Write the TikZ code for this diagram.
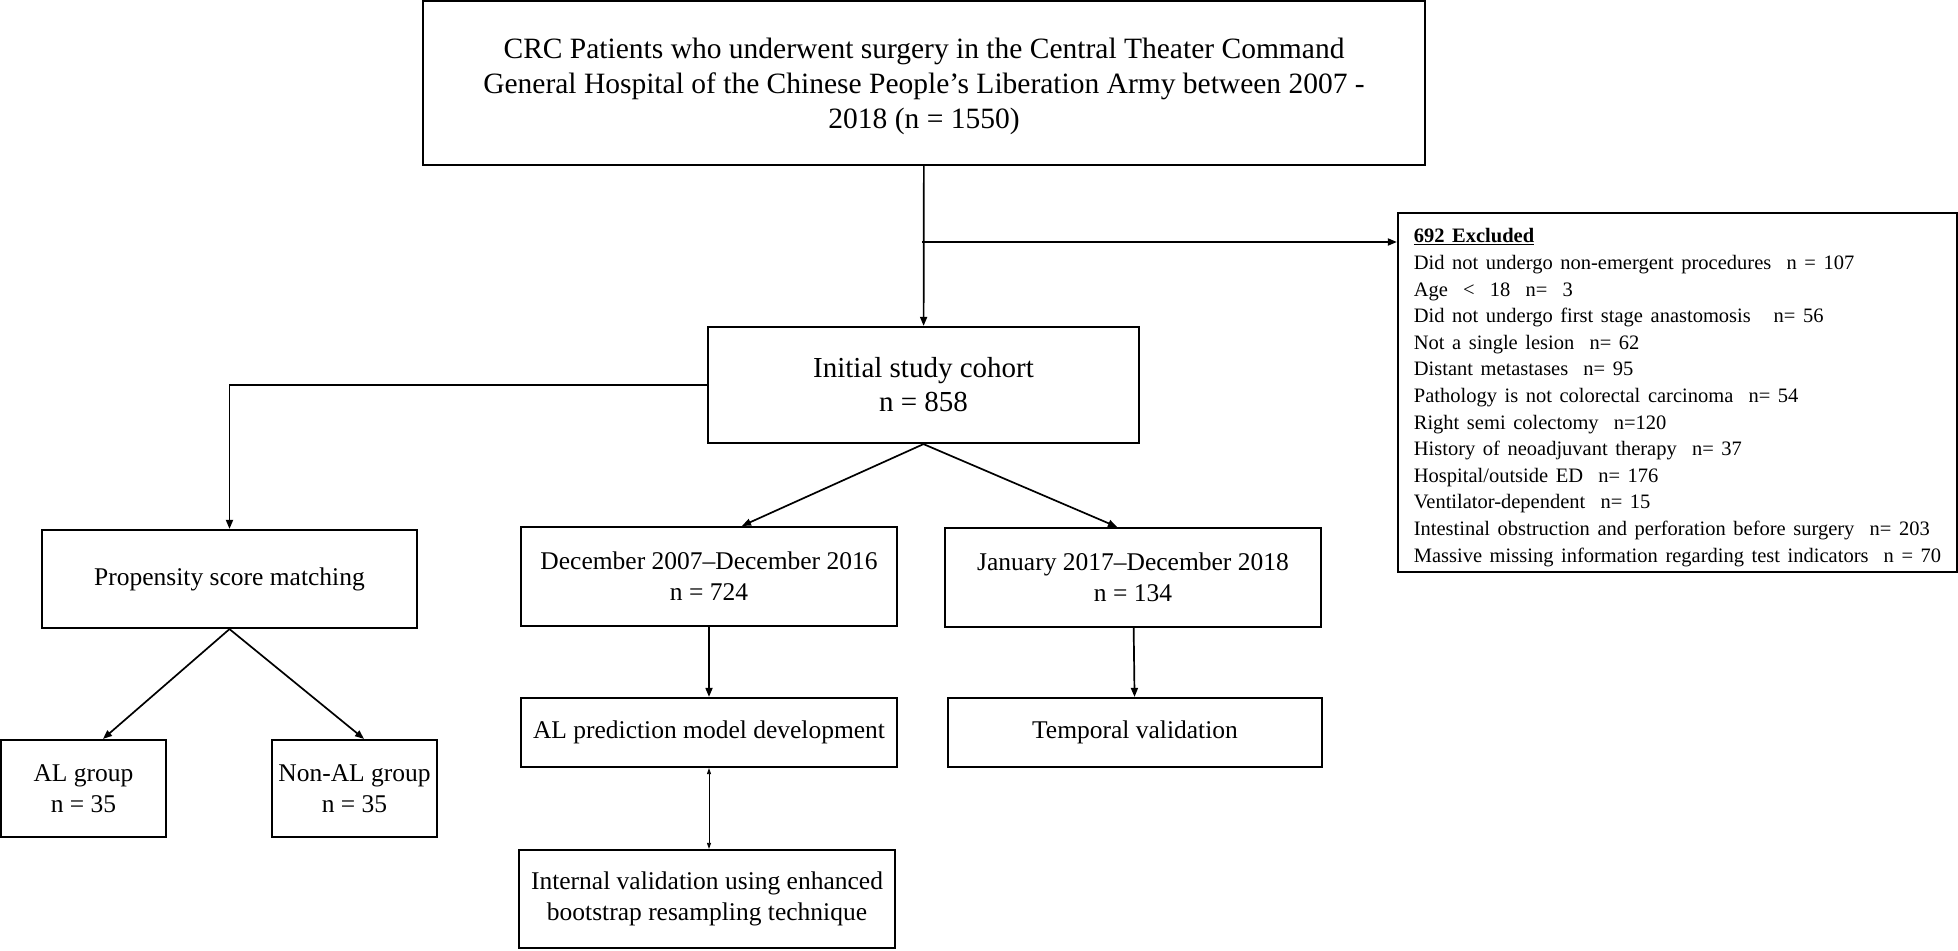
\documentclass[tikz,border=0pt]{standalone}
\usepackage{fontspec}
\setmainfont{Liberation Serif}
\usetikzlibrary{arrows.meta,positioning}

\begin{document}
\begin{tikzpicture}[x=1pt, y=-1pt, ->, >={Triangle[length=9pt,width=7pt]}, line width=1.7pt,
  box/.style={draw, line width=2.2pt, align=center, inner sep=0pt, font=\fontsize{25.5}{31}\selectfont},
  hv/.style={to path={-| (\tikztotarget)}}]
  \useasboundingbox (0,0) rectangle (1958,950);

  \node[box, minimum width=1002pt, minimum height=164pt, font=\fontsize{29.5}{35}\selectfont] (top) at (924,83)
    {\mbox{}\\[-7pt]CRC Patients who underwent surgery in the Central Theater Command\\General Hospital of the Chinese People's Liberation Army between 2007 -\\2018 (n = 1550)};
  \node[box, minimum width=431pt, minimum height=116pt, font=\fontsize{29}{34}\selectfont] (init) at (923.5,385) {Initial study cohort\\n = 858};
  \node[box, minimum width=559pt, minimum height=359pt, font=\fontsize{20.5}{26.6}\selectfont] (excl) at (1677.5,392.5)
    {\spaceskip=0.37em\relax
     \begin{tabular}{@{}l@{}}
     \rule{0pt}{28pt}\textbf{\underline{692 Excluded}}\\
     Did not undergo non-emergent procedures~~n = 107\\
     Age~~<~~18~~n=~~3\\
     Did not undergo first stage anastomosis~~~n= 56\\
     Not a single lesion~~n= 62\\
     Distant metastases~~n= 95\\
     Pathology is not colorectal carcinoma~~n= 54\\
     Right semi colectomy~~n=120\\
     History of neoadjuvant therapy~~n= 37\\
     Hospital/outside ED~~n= 176\\
     Ventilator-dependent~~n= 15\\
     Intestinal obstruction and perforation before surgery~~n= 203\\
     Massive missing information regarding test indicators~~n = 70
     \end{tabular}};

  \node[box, minimum width=375pt, minimum height=98pt] (psm) at (229.5,579) {Propensity score matching};
  \node[box, minimum width=165pt, minimum height=97pt] (algrp) at (83.5,788.5) {AL group\\n = 35};
  \node[box, minimum width=165pt, minimum height=97pt] (nonal) at (354.5,788.5) {Non-AL group\\n = 35};
  \node[box, minimum width=376pt, minimum height=99pt] (dev) at (709,576.5) {December 2007--December 2016\\n = 724};
  \node[box, minimum width=376pt, minimum height=99pt] (temp) at (1133,577.5) {January 2017--December 2018\\n = 134};
  \node[box, minimum width=376pt, minimum height=69pt] (model) at (709,732.5) {AL prediction model development};
  \node[box, minimum width=376pt, minimum height=98pt] (intval) at (707,899) {Internal validation using enhanced\\bootstrap resampling technique};
  \node[box, minimum width=374pt, minimum height=69pt] (tval) at (1135,732.5) {Temporal validation};

  \coordinate (split) at (922,242);

  \path (top) edge (init)
        (split) edge (split -| excl.west)
        (init.west) edge[hv] (psm.north)
        (psm.south) edge ([xshift=19.5pt]algrp.north)
                    edge ([xshift=9.5pt]nonal.north)
        (init.south) edge ([xshift=33pt]dev.north)
                     edge ([xshift=-16pt]temp.north)
        (dev) edge (model)
        (temp) edge (tval);
  \path[<->, line width=0.8pt, >={Triangle[length=6pt,width=4pt]}]
        (model.south) edge (model.south |- intval.north);
\end{tikzpicture}
\end{document}
